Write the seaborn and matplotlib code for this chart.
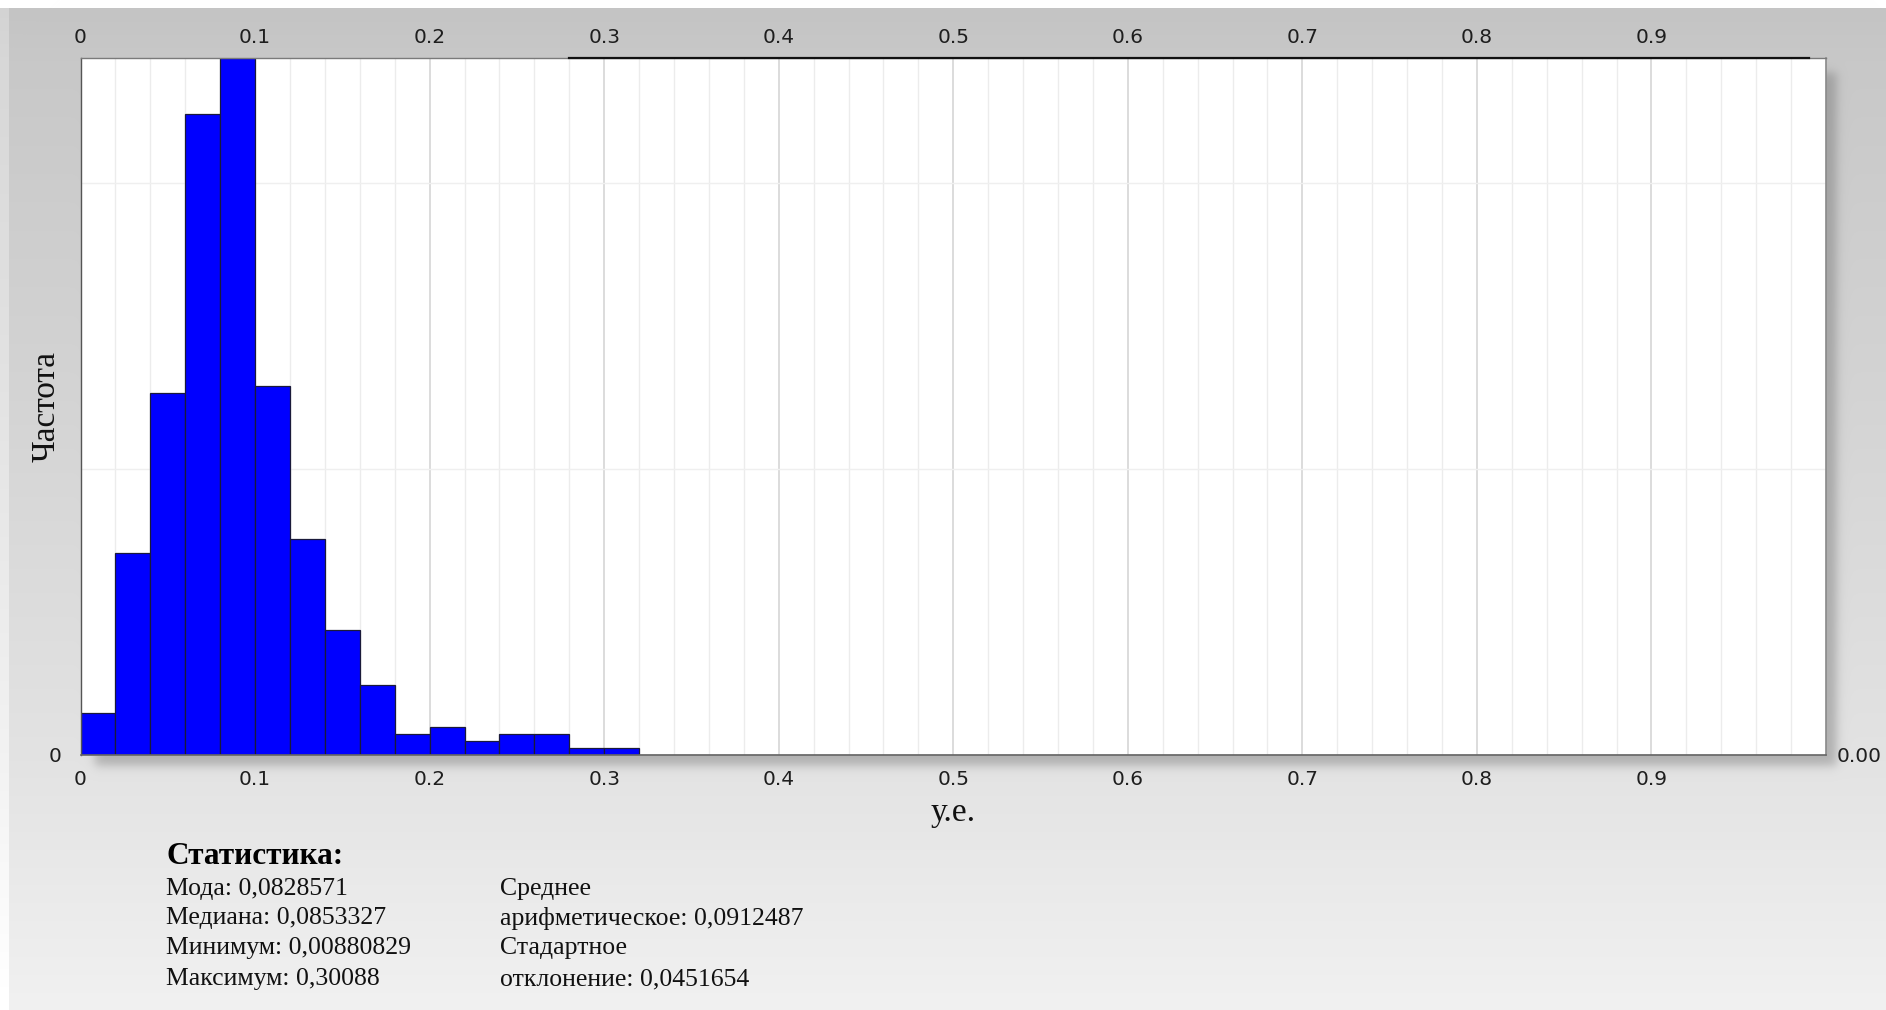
import numpy as np
import pandas as pd
import matplotlib
matplotlib.use("Agg")
import matplotlib.pyplot as plt
import seaborn as sns
from matplotlib.ticker import FixedLocator, FuncFormatter, MultipleLocator

# ---- data -------------------------------------------------------------
bin_start = 0.0
bin_width = 0.02

# frequency per 0.02-wide bin, from 0.00 up to 0.98
freq = [6, 29, 52, 92, 100, 53, 31, 18, 10, 3,
        4, 2, 3, 3, 1, 1, 0, 0, 0, 0,
        0, 0, 0, 0, 0, 0, 0, 0, 0, 0,
        0, 0, 0, 0, 0, 0, 0, 0, 0, 0,
        0, 0, 0, 0, 0, 0, 0, 0, 0]

x_ticks = [0, 0.1, 0.2, 0.3, 0.4, 0.5, 0.6, 0.7, 0.8, 0.9]
y_grid = [41, 82]

x_label = "у.е."
y_label = "Частота"
stats_title = "Статистика:"
stats_left = ["Мода: 0,0828571", "Медиана: 0,0853327",
              "Минимум: 0,00880829", "Максимум: 0,30088"]
stats_right = ["Среднее", "арифметическое: 0,0912487",
               "Стадартное", "отклонение: 0,0451654"]

# ---- figure geometry (pixels) ----------------------------------------
W, H = 1886, 1010
AX_L, AX_R, AX_T, AX_B = 80.5, 1826, 58, 755

sns.set_theme(style="white")
plt.rcParams["font.family"] = ["DejaVu Sans"]

fig = plt.figure(figsize=(W / 100, H / 100), dpi=100)


def fx(px):
    return px / W


def fy(py):
    return 1 - py / H


# background: vertical grey gradient with a soft drop shadow under the plot
yy, xx = np.mgrid[0:H, 0:W].astype(float)
ctrl_y = [0, 8, 60, 400, 760, 1010]
ctrl_v = [196, 196, 200, 212, 227, 241]
bg = np.interp(yy, ctrl_y, ctrl_v) / 255.0
bg[:8, :] = 1.0
bg[8:, :9] = np.minimum(bg[8:, :9] + 0.06, 1.0)


def step(t, s):
    return 0.5 * (1 + np.tanh(t / s))


sig = 6.0
sx0, sx1, sy0, sy1 = AX_L + 14, AX_R + 10, AX_T + 14, AX_B + 10
shadow = (step(xx - sx0, sig) * step(sx1 - xx, sig)
          * step(yy - sy0, sig) * step(sy1 - yy, sig)) * 0.4
img = bg * (1 - shadow) + (100 / 255.0) * shadow
bg_ax = fig.add_axes([0, 0, 1, 1], zorder=-10)
bg_ax.imshow(np.dstack([img, img, img]), extent=[0, 1, 0, 1],
             aspect="auto", interpolation="bilinear")
bg_ax.set_axis_off()

# ---- main histogram axes ---------------------------------------------
ax = fig.add_axes([fx(AX_L), fy(AX_B), fx(AX_R) - fx(AX_L), fy(AX_T) - fy(AX_B)])
ax.set_facecolor("white")

edges = [round(bin_start + i * bin_width, 2) for i in range(len(freq) + 1)]
centers = [(a + b) / 2 for a, b in zip(edges[:-1], edges[1:])]
df = pd.DataFrame({"value": centers, "count": freq})

sns.histplot(data=df, x="value", weights="count", bins=edges, stat="count",
             color="#0000ff", alpha=1.0, edgecolor="#1a1a3a", linewidth=0.9,
             ax=ax)

ax.set_xlim(0, 1.0)
ax.set_ylim(0, max(freq))

ax.set_axisbelow(True)
ax.xaxis.set_major_locator(FixedLocator(x_ticks))
ax.xaxis.set_minor_locator(MultipleLocator(bin_width))
ax.xaxis.set_major_formatter(FuncFormatter(lambda v, p: f"{v:g}"))
ax.grid(which="minor", axis="x", color="#ececec", linewidth=1.0)
ax.grid(which="major", axis="x", color="#d2d2d2", linewidth=1.1)

ax.yaxis.set_major_locator(FixedLocator([0] + y_grid))
ax.yaxis.set_major_formatter(FuncFormatter(lambda v, p: "0" if v == 0 else ""))
ax.grid(which="major", axis="y", color="#efefef", linewidth=1.0)

tick_font = dict(labelsize=14.5, labelcolor="#1e1e1e", length=0)
ax.tick_params(axis="x", which="both", pad=11, **tick_font)
ax.tick_params(axis="x", which="minor", length=0)
ax.tick_params(axis="y", pad=14, **tick_font)

for side, col, lw in [("left", "#555555", 1.0), ("bottom", "#666666", 1.2),
                      ("right", "#8a8a8a", 1.2), ("top", "#7a7a7a", 1.0)]:
    ax.spines[side].set_visible(True)
    ax.spines[side].set_color(col)
    ax.spines[side].set_linewidth(lw)

ax.set_xlabel(x_label, fontsize=24, family="Liberation Serif", color="#111111")
ax.xaxis.label.set_va("center")
ax.xaxis.set_label_coords(0.5, (AX_B - 813) / (AX_B - AX_T))
ax.set_ylabel(y_label, fontsize=24, family="Liberation Serif", color="#111111")
ax.yaxis.label.set_va("center")
ax.yaxis.set_label_coords((46 - AX_L) / (AX_R - AX_L), 0.5)

# top axis with the same scale
top = ax.twiny()
top.set_xlim(ax.get_xlim())
top.xaxis.set_major_locator(FixedLocator(x_ticks))
top.xaxis.set_major_formatter(FuncFormatter(lambda v, p: f"{v:g}"))
top.tick_params(axis="x", pad=8, **tick_font)
for side in ["left", "right", "bottom"]:
    top.spines[side].set_visible(False)
top.spines["top"].set_color("#111111")
top.spines["top"].set_linewidth(1.6)
top.spines["top"].set_bounds(0.28, 0.99)

# right axis showing the zero level
right = ax.twinx()
right.set_ylim(ax.get_ylim())
right.yaxis.set_major_locator(FixedLocator([0]))
right.yaxis.set_major_formatter(FuncFormatter(lambda v, p: "0.00"))
right.tick_params(axis="y", pad=7.5, **tick_font)
for side in ["left", "top", "bottom", "right"]:
    right.spines[side].set_visible(False)

# ---- statistics block -------------------------------------------------
serif = "Liberation Serif"
fig.text(fx(166), fy(856), stats_title, fontsize=22.5, fontweight="bold",
         family=serif, va="center", ha="left", color="#000000")
line_y = [889, 918, 948, 979]
for ypx, txt in zip(line_y, stats_left):
    fig.text(fx(166), fy(ypx), txt, fontsize=18.5, family=serif,
             va="center", ha="left", color="#111111")
for ypx, txt in zip(line_y, stats_right):
    fig.text(fx(500), fy(ypx), txt, fontsize=18.5, family=serif,
             va="center", ha="left", color="#111111")

fig.savefig("out.png", dpi=100)
